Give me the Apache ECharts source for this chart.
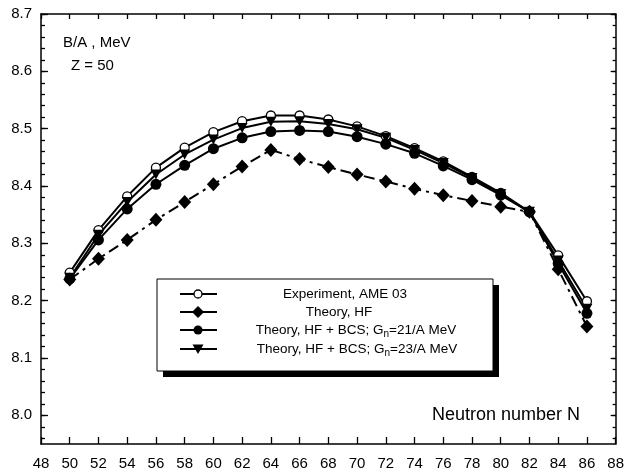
<!DOCTYPE html>
<html>
<head>
<meta charset="utf-8">
<script src="https://cdn.jsdelivr.net/npm/echarts@6/dist/echarts.min.js"></script>
<style>
html,body{margin:0;padding:0;background:#fff;}
#chart{width:627px;height:473px;}
</style>
</head>
<body>
<div id="chart"></div>
<script>
// ---- data ----
var neutronN = [50,52,54,56,58,60,62,64,66,68,70,72,74,76,78,80,82,84,86];
var expAME03 = [8.249,8.323,8.382,8.432,8.467,8.494,8.513,8.523,8.523,8.516,8.504,8.487,8.466,8.443,8.416,8.388,8.355,8.279,8.199];
var theoryHF = [8.237,8.273,8.306,8.341,8.372,8.403,8.434,8.463,8.447,8.433,8.420,8.408,8.395,8.384,8.374,8.364,8.355,8.255,8.155];
var hfBcs21 = [8.238,8.306,8.360,8.403,8.436,8.465,8.484,8.495,8.497,8.495,8.486,8.473,8.457,8.435,8.411,8.384,8.355,8.265,8.178];
var hfBcs23 = [8.240,8.315,8.372,8.420,8.455,8.481,8.501,8.512,8.513,8.508,8.499,8.484,8.463,8.440,8.414,8.386,8.355,8.270,8.186];
var xTicks = [48,50,52,54,56,58,60,62,64,66,68,70,72,74,76,78,80,82,84,86,88];
var yLabels = [8.0,8.1,8.2,8.3,8.4,8.5,8.6,8.7];
var legendNames = ['Experiment, AME 03','Theory, HF','Theory, HF + BCS; G','Theory, HF + BCS; G'];

function pairs(ys){ return neutronN.map(function(n,i){ return [n, ys[i]]; }); }
var yMinor = [];
for (var k = 0; k <= 37; k++) { yMinor.push(+(7.96 + k*0.02).toFixed(2)); }

var FONT = '"Liberation Sans", Arial, Helvetica, sans-serif';
var chart = echarts.init(document.getElementById('chart'), null, {renderer:'canvas'});

var grid = {left:41, right:10, top:14, bottom:29, containLabel:false};
function yAx(pos, ticks, len, showLine, showLabel){
  return {
    type:'value', position:pos, min:7.95, max:8.7,
    axisLine:{show:showLine, onZero:false, lineStyle:{color:'#000', width:1.5}},
    axisTick:{show:true, inside:true, length:len, customValues:ticks, lineStyle:{color:'#000', width:1.3}},
    axisLabel:{show:showLabel, customValues:yLabels, margin:9, color:'#000', fontFamily:FONT, fontSize:15,
      formatter:function(v){ return v.toFixed(1); }},
    splitLine:{show:false}
  };
}
var option = {
  backgroundColor:'#fff',
  animation:false,
  grid:grid,
  xAxis:[
    {type:'value', position:'bottom', min:48, max:88, interval:2,
     axisLine:{onZero:false, lineStyle:{color:'#000', width:1.5}},
     axisTick:{inside:true, length:7, lineStyle:{color:'#000', width:1.3}},
     axisLabel:{margin:12, color:'#000', fontFamily:FONT, fontSize:15, showMinLabel:true, showMaxLabel:true},
     splitLine:{show:false}},
    {type:'value', position:'top', min:48, max:88, interval:2,
     axisLine:{onZero:false, lineStyle:{color:'#000', width:1.5}},
     axisTick:{inside:true, length:5, lineStyle:{color:'#000', width:1.3}},
     axisLabel:{show:false}, splitLine:{show:false}}
  ],
  yAxis:[
    yAx('left', yLabels, 7, true, true),
    yAx('left', yMinor, 4, false, false),
    yAx('right', yLabels, 5, true, false),
    yAx('right', yMinor, 3, false, false)
  ],
  series:[
    {name:legendNames[0], type:'line', data:pairs(expAME03), symbol:'circle', symbolSize:9,
     lineStyle:{color:'#000', width:2}, itemStyle:{color:'#fff', borderColor:'#000', borderWidth:1.3}},
    {name:legendNames[1], type:'line', data:pairs(theoryHF), symbol:'diamond', symbolSize:[13,14],
     lineStyle:{color:'#000', width:2, type:[11,5,3,5]}, itemStyle:{color:'#000'}},
    {name:legendNames[2], type:'line', data:pairs(hfBcs21), symbol:'circle', symbolSize:11,
     lineStyle:{color:'#000', width:2}, itemStyle:{color:'#000'}},
    {name:legendNames[3], type:'line', data:pairs(hfBcs23), symbol:'triangle', symbolRotate:180, symbolSize:[11,10],
     lineStyle:{color:'#000', width:2}, itemStyle:{color:'#000'}}
  ],
  graphic:[]
};

// legend box drawn with graphic elements
var g = [];
g.push({type:'rect', shape:{x:163, y:285, width:336, height:92}, style:{fill:'#000'}, silent:true, z:50});
g.push({type:'rect', shape:{x:157, y:279, width:336, height:92}, style:{fill:'#fff', stroke:'#000', lineWidth:1}, silent:true, z:51});
var rowsY = [294, 312, 330, 349];
var rowsCx = [345, 339, 356, 357];
var richT = {t:{fontFamily:FONT, fontSize:13.5, color:'#000', lineHeight:16}, s:{fontFamily:FONT, fontSize:10, color:'#000', lineHeight:10, padding:[9,0,0,0]}};
var texts = [
  '{t|' + legendNames[0] + '}',
  '{t|' + legendNames[1] + '}',
  '{t|' + legendNames[2] + '}{s|n}{t|=21/A MeV}',
  '{t|' + legendNames[3] + '}{s|n}{t|=23/A MeV}'
];
for (var r = 0; r < 4; r++) {
  var y = rowsY[r];
  g.push({type:'line', shape:{x1:180, y1:y, x2:217, y2:y}, style:{stroke:'#000', lineWidth:2}, silent:true, z:52});
  var sym;
  if (r === 0) sym = {type:'circle', shape:{cx:198, cy:y, r:4}, style:{fill:'#fff', stroke:'#000', lineWidth:1.3}};
  else if (r === 1) sym = {type:'polygon', shape:{points:[[198,y-6],[204,y],[198,y+6],[192,y]]}, style:{fill:'#000'}};
  else if (r === 2) sym = {type:'circle', shape:{cx:198, cy:y, r:4.5}, style:{fill:'#000'}};
  else sym = {type:'polygon', shape:{points:[[192.5,y-4.5],[203.5,y-4.5],[198,y+5]]}, style:{fill:'#000'}};
  sym.silent = true; sym.z = 53;
  g.push(sym);
  g.push({type:'text', x:rowsCx[r], y:y, style:{text:texts[r], rich:richT, align:'center', verticalAlign:'middle'}, silent:true, z:53});
}
g.push({type:'text', x:63, y:43, style:{text:'B/A , MeV', fontFamily:FONT, fontSize:15, fill:'#000', verticalAlign:'middle'}, silent:true});
g.push({type:'text', x:71, y:66, style:{text:'Z = 50', fontFamily:FONT, fontSize:15, fill:'#000', verticalAlign:'middle'}, silent:true});
g.push({type:'text', x:432, y:415, style:{text:'Neutron number N', fontFamily:FONT, fontSize:18, fill:'#000', verticalAlign:'middle'}, silent:true});
option.graphic = g;
chart.setOption(option);
</script>
</body>
</html>
